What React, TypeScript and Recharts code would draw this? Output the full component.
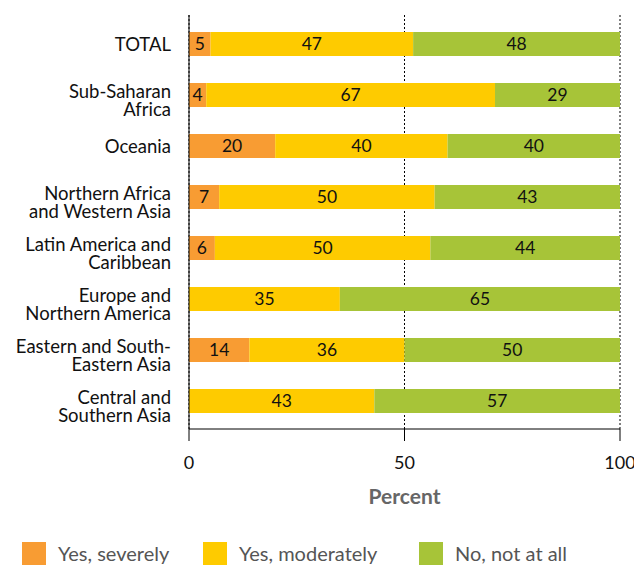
import { Bar, BarChart, CartesianGrid, LabelList, XAxis, YAxis } from "recharts";

const regions = [
  "TOTAL",
  "Sub-Saharan\nAfrica",
  "Oceania",
  "Northern Africa\nand Western Asia",
  "Latin America and\nCaribbean",
  "Europe and\nNorthern America",
  "Eastern and South-\nEastern Asia",
  "Central and\nSouthern Asia",
];
const severely = [5, 4, 20, 7, 6, 0, 14, 0];
const moderately = [47, 67, 40, 50, 50, 35, 36, 43];
const notAtAll = [48, 29, 40, 43, 44, 65, 50, 57];
const xTicks = [0, 50, 100];

const SERIES = [
  { key: "severely", name: "Yes, severely", color: "#F89C33" },
  { key: "moderately", name: "Yes, moderately", color: "#FECB00" },
  { key: "notAtAll", name: "No, not at all", color: "#A7C438" },
];

const FONT = "Lato, sans-serif";

const data = regions.map((region, i) => ({
  region,
  severely: severely[i],
  moderately: moderately[i],
  notAtAll: notAtAll[i],
}));

// category labels, right aligned, one or two lines
const RegionTick = ({ x, y, payload }: any) => {
  const lines = String(payload.value).split("\n");
  const first = lines.length > 1 ? 3 : 7.5;
  return (
    <text x={x - 10} y={y} textAnchor="end" fill="#111" fontSize={18.5} fontFamily={FONT}>
      {lines.map((l, i) => (
        <tspan key={i} x={x - 10} dy={i === 0 ? first : 18}>
          {l}
        </tspan>
      ))}
    </text>
  );
};

const fmt = (v: any) => (v ? v : "");

export default function App() {
  return (
    <div style={{ position: "absolute", left: 0, top: 0, width: 634, height: 565, fontFamily: FONT }}>
      <BarChart
        width={634}
        height={565}
        data={data}
        layout="vertical"
        margin={{ top: 15, right: 14, left: 0, bottom: 56 }}
        barCategoryGap={0}
      >
        <CartesianGrid horizontal={false} stroke="#000" strokeDasharray="2 2" />
        <XAxis
          type="number"
          domain={[0, 100]}
          ticks={xTicks}
          tickSize={12}
          tickMargin={15}
          stroke="#000"
          height={80}
          tick={{ fill: "#111", fontSize: 18, fontFamily: FONT }}
          label={{
            value: "Percent",
            position: "insideBottom",
            offset: 5,
            fill: "#666",
            fontSize: 21,
            fontWeight: 700,
            fontFamily: FONT,
          }}
        />
        <YAxis
          type="category"
          dataKey="region"
          width={189}
          tickLine={false}
          stroke="#000"
          padding={{ top: 3, bottom: 3 }}
          tick={<RegionTick />}
          interval={0}
        />
        {SERIES.map((s) => (
          <Bar
            key={s.key}
            dataKey={s.key}
            name={s.name}
            stackId="a"
            fill={s.color}
            barSize={24}
            isAnimationActive={false}
          >
            <LabelList
              dataKey={s.key}
              position="center"
              formatter={fmt}
              fill="#111"
              fontSize={17.5}
              fontFamily={FONT}
            />
          </Bar>
        ))}
      </BarChart>
      <div style={{ position: "absolute", top: 542, left: 0, width: 634, height: 23 }}>
        {SERIES.map((s, i) => (
          <div
            key={s.key}
            style={{
              position: "absolute",
              left: [22, 203, 419][i],
              top: 0,
              height: 23,
              display: "flex",
              alignItems: "center",
              whiteSpace: "nowrap",
            }}
          >
            <span style={{ width: 24, height: 23, background: s.color, display: "inline-block" }} />
            <span style={{ marginLeft: 12, fontSize: 20, color: "#555", lineHeight: "23px" }}>
              {s.name}
            </span>
          </div>
        ))}
      </div>
    </div>
  );
}
